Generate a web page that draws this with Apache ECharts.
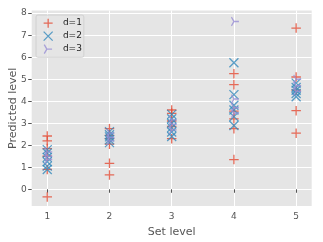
<!DOCTYPE html>
<html>
<head>
<meta charset="utf-8">
<script src="https://cdn.jsdelivr.net/npm/echarts@6/dist/echarts.min.js"></script>
<style>
html,body{margin:0;padding:0;background:#fff;}
#chart{width:323px;height:242px;}
</style>
</head>
<body>
<div id="chart"></div>
<script>
// Data
const setLevels = [1, 2, 3, 4, 5];
const xTicks = [1, 2, 3, 4, 5];
const yTicks = [0, 1, 2, 3, 4, 5, 6, 7, 8];
const seriesNames = ['d=1', 'd=2', 'd=3'];
const d1Values = [
  [2.42, 2.2, 1.85, 1.5, 0.9, -0.35],
  [2.75, 2.45, 2.3, 2.05, 1.18, 0.65],
  [3.6, 3.45, 3.1, 2.85, 2.3],
  [5.25, 4.75, 3.55, 3.2, 2.75, 1.35],
  [7.32, 5.1, 4.5, 3.57, 2.55]
];
const d2Values = [
  [1.8, 1.65, 1.45, 1.25, 1.05, 0.9],
  [2.62, 2.48, 2.38, 2.25, 2.12],
  [3.4, 3.2, 3.0, 2.8, 2.6, 2.4],
  [5.75, 4.3, 3.82, 3.6, 3.3, 2.9],
  [4.82, 4.62, 4.5, 4.35, 4.2]
];
const d3Values = [
  [1.7, 1.5, 1.35],
  [2.55, 2.35, 2.2],
  [3.15, 2.95, 2.7],
  [7.62, 4.1, 3.7, 3.45],
  [5.0, 4.7, 4.45]
];

function pairs(vals) {
  const out = [];
  setLevels.forEach((lv, i) => vals[i].forEach(v => out.push([lv, v])));
  return out;
}

const colors = ['#E24A33', '#348ABD', '#988ED5'];
const plusPath = 'path://M0,5 L10,5 M5,0 L5,10';
const xPath = 'path://M0,0 L10,10 M0,10 L10,0';
const triPath = 'path://M0,0 L10,0 M0,0 L-5,-8.66 M0,0 L-5,8.66';
const symbols = [plusPath, xPath, triPath];
const sizes = [[9.5, 9.5], [9, 9], [7.5, 8.7]];
const offsets = [[0, 0], [0, 0], [1.25, 0]];
const allData = [d1Values, d2Values, d3Values];

const chart = echarts.init(document.getElementById('chart'), null, {renderer: 'canvas'});
const font = 'DejaVu Sans';

const series = seriesNames.map((name, i) => ({
  name: name,
  type: 'scatter',
  data: pairs(allData[i]),
  symbol: symbols[i],
  symbolSize: sizes[i],
  symbolOffset: offsets[i],
  itemStyle: {color: colors[i], borderColor: colors[i], borderWidth: 1.3, opacity: 0.8},
  emphasis: {disabled: true},
  animation: false
}));

chart.setOption({
  animation: false,
  backgroundColor: '#ffffff',
  grid: {left: 31.7, right: 11.3, top: 10.5, bottom: 36, show: true, backgroundColor: '#E5E5E5', borderWidth: 0, outerBoundsMode: 'none', containLabel: false},
  legend: {
    orient: 'vertical',
    left: 36, top: 15,
    padding: [3, 2, 3, 7],
    itemWidth: 19.5, itemHeight: 9, itemGap: 2.7,
    backgroundColor: 'rgba(229,229,229,0.8)',
    borderColor: '#CCCCCC', borderWidth: 0.8, borderRadius: 2,
    textStyle: {fontFamily: font, fontSize: 9, color: '#222222'},
    data: seriesNames.map((n, i) => ({
      name: n, icon: symbols[i],
      itemStyle: {color: colors[i], borderColor: colors[i], borderWidth: 1.3, opacity: 0.8}
    }))
  },
  xAxis: {
    type: 'value', min: 0.75, max: 5.25,
    name: 'Set level', nameLocation: 'middle', nameGap: 21, nameMoveOverlap: false,
    nameTextStyle: {fontFamily: font, fontSize: 11, color: '#555555'},
    axisLine: {show: false},
    axisTick: {show: true, length: 3.5, lineStyle: {color: '#555555'}, customValues: xTicks},
    axisLabel: {customValues: xTicks, margin: 6, fontFamily: font, fontSize: 9, color: '#555555'},
    splitLine: {show: true, lineStyle: {color: '#ffffff', width: 1}}
  },
  yAxis: {
    type: 'value', min: -0.76, max: 8.12,
    name: 'Predicted level', nameLocation: 'middle', nameGap: 13, nameMoveOverlap: false,
    nameTextStyle: {fontFamily: font, fontSize: 11, color: '#555555'},
    axisLine: {show: false},
    axisTick: {show: true, length: 3.5, lineStyle: {color: '#555555'}, customValues: yTicks},
    axisLabel: {customValues: yTicks, margin: 5, fontFamily: font, fontSize: 9, color: '#555555'},
    splitLine: {show: true, lineStyle: {color: '#ffffff', width: 1}}
  },
  series: series
});
</script>
</body>
</html>
